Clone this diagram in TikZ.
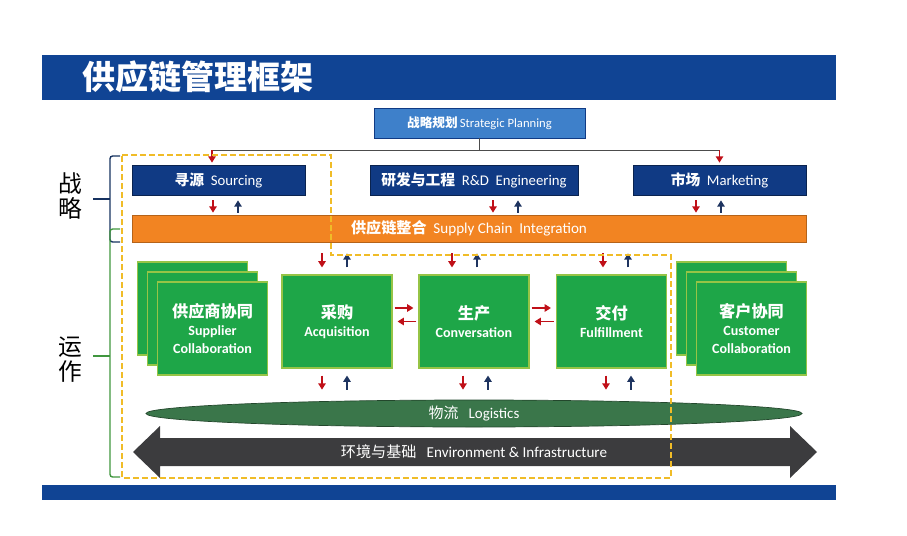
\documentclass[tikz,border=0pt]{standalone}
\usepackage{fontspec}
\setmainfont{Carlito}
\newfontfamily\cjk{Noto Sans CJK SC}
\usetikzlibrary{arrows.meta,shapes.geometric}
\definecolor{banner_blue}{RGB}{16,68,148}
\definecolor{plan_blue}{RGB}{62,128,202}
\definecolor{box_blue}{RGB}{16,58,132}
\definecolor{sci_orange}{RGB}{242,132,34}
\definecolor{proc_green}{RGB}{30,166,72}
\definecolor{proc_edge}{RGB}{150,196,70}
\definecolor{log_green}{RGB}{58,118,74}
\definecolor{env_grey}{RGB}{60,60,62}
\definecolor{arr_red}{RGB}{192,16,24}
\definecolor{arr_navy}{RGB}{30,52,96}
\definecolor{frame_yellow}{RGB}{240,188,40}
\definecolor{brace_blue}{RGB}{22,50,96}
\definecolor{brace_green}{RGB}{64,150,62}
\newcommand{\zh}[1]{{\cjk\bfseries #1}}
\newcommand{\zhbig}[1]{{\cjk\bfseries\fontsize{9.2}{10}\selectfont #1}}

\begin{document}
\begin{tikzpicture}[x=0.2mm, y=-0.2mm,
  planbox/.style={fill=plan_blue, draw=box_blue, text=white, minimum width=42.2mm, minimum height=6mm, inner sep=0pt, font=\fontsize{7.2}{9}\selectfont},
  darkbox/.style={fill=box_blue, draw=box_blue!60!black, text=white, minimum width=34.6mm, minimum height=6mm, inner sep=0pt, font=\fontsize{8.4}{10}\selectfont},
  procbox/.style={fill=proc_green, draw=proc_edge, line width=0.6pt, text=white, minimum width=22mm, minimum height=18.6mm, inner sep=0pt, align=center, font=\bfseries\fontsize{8}{10.2}\selectfont},
  redarr/.style={arr_red, line width=1.1pt, -{Triangle[width=4.2pt,length=3.6pt]}},
  navyarr/.style={arr_navy, line width=1.1pt, -{Triangle[width=4.2pt,length=3.6pt]}}]
\useasboundingbox (0,0) rectangle (907,536);

% banner and footer
\fill[banner_blue] (42,55) rectangle (836,100);
\fill[banner_blue] (42,485) rectangle (836,500);
\node[anchor=west, text=white, font=\fontsize{18.8}{20}\selectfont] (title) at (76,77) {\zh{供应链管理框架}};

% strategy row
\node[planbox] (plan) at (479.5,123) {\zh{战略规划}\,Strategic Planning};
\node[darkbox] (sourcing) at (218.5,180) {\zh{寻源}~~Sourcing};
\node[darkbox, minimum width=41.6mm] (rnd) at (474,180) {\zh{研发与工程}~~R\&D~~Engineering};
\node[darkbox] (market) at (719.5,180) {\zh{市场}~~Marketing};
\node[fill=sci_orange, draw=sci_orange!75!black, text=white, minimum width=134.8mm, minimum height=5.4mm, inner sep=0pt,
  font=\fontsize{8.6}{10}\selectfont] (sci) at (469,228.5) {\zh{供应链整合}~~Supply Chain~~Integration};

\draw[gray!60!black] (plan.south) -- ++(0,12) coordinate (hub);
\draw[gray!60!black] ([xshift=-1.3mm]sourcing.north |- hub) -- (market.north |- hub);
\draw[redarr, shorten >=0.4mm] ([xshift=-1.3mm]sourcing.north |- hub) -- ([xshift=-1.3mm]sourcing.north);
\draw[redarr, shorten >=0.4mm] (market.north |- hub) -- (market.north);

\foreach \b/\dx in {sourcing/-1.1, rnd/3.8, market/-4.7} {
  \draw[redarr, shorten <=1mm, shorten >=0.4mm] ([xshift=\dx mm]\b.south) -- ([xshift=\dx mm]\b.south |- sci.north);
  \draw[navyarr, shorten <=0.4mm, shorten >=1mm] ([xshift=\dx mm+5mm]\b.south |- sci.north) -- ([xshift=\dx mm+5mm]\b.south);
}

% operation row
\foreach \d in {0,10}
  \node[procbox] (sup\d) at (192.5+\d,308.5+\d) {};
\node[procbox] (supplier) at (212.5,328.5) {\zhbig{供应商协同}\\Supplier\\Collaboration};
\node[procbox] (acq) at (337,321.5) {\zhbig{采购}\\Acquisition};
\node[procbox] (conv) at (474,321.5) {\zhbig{生产}\\Conversation};
\node[procbox] (fulf) at (611.5,321.5) {\zhbig{交付}\\Fulfillment};
\foreach \d in {0,10}
  \node[procbox] (cus\d) at (731.5+\d,308.5+\d) {};
\node[procbox] (customer) at (751.5,328.5) {\zhbig{客户协同}\\Customer\\Collaboration};

\node[ellipse, fill=log_green, draw=log_green!60!black, text=white, minimum width=131.2mm, minimum height=5.4mm, inner sep=0pt,
  font=\fontsize{8.5}{9}\selectfont] (logi) at (474,413.5) {{\cjk 物流}~~~Logistics};

\foreach \b/\dx in {acq/-3, conv/-4.4, fulf/-1.7} {
  \draw[redarr, shorten <=2.2mm, shorten >=1.4mm] ([xshift=\dx mm]\b.north |- sci.south) -- ([xshift=\dx mm]\b.north);
  \draw[navyarr, shorten <=1.4mm, shorten >=2.2mm] ([xshift=\dx mm+5mm]\b.north) -- ([xshift=\dx mm+5mm]\b.north |- sci.south);
}
\foreach \b/\dx in {acq/-3, conv/-2.2, fulf/-1.1} {
  \draw[redarr, shorten <=1.4mm, shorten >=2mm] ([xshift=\dx mm]\b.south) -- ([xshift=\dx mm]\b.south |- logi.north);
  \draw[navyarr, shorten <=2mm, shorten >=1.4mm] ([xshift=\dx mm+5mm]\b.south |- logi.north) -- ([xshift=\dx mm+5mm]\b.south);
}
\foreach \a/\b in {acq/conv, conv/fulf} {
  \draw[redarr, line width=0.9pt, shorten <=0.4mm, shorten >=1mm] ([yshift=2.7mm]\a.east) -- ([yshift=2.7mm]\b.west);
  \draw[redarr, line width=0.9pt, shorten <=0.4mm, shorten >=1mm] (\b.west) -- (\a.east);
}

% environment arrow
\fill[env_grey] (133,452) -- (160,426) -- (160,438) -- (790,438) -- (790,426) -- (817,452)
  -- (790,478) -- (790,466) -- (160,466) -- (160,478) -- cycle;
\node[text=white, font=\fontsize{8.6}{10}\selectfont] (env) at (474,452) {{\cjk 环境与基础}~~~Environment~\&~Infrastructure};

% dashed frame
\draw[frame_yellow, line width=0.3mm, dash pattern=on 1.2mm off 0.6mm]
  (122,155) -- (331,155) -- (331,255) -- (671,255) -- (671,478) -- (122,478) -- cycle;

% left brackets
\node[align=center, font=\fontsize{13.5}{14.2}\selectfont] (zl) at (70,196) {\cjk 战\\\cjk 略};
\node[align=center, font=\fontsize{13.5}{14.2}\selectfont] (yz) at (70,360) {\cjk 运\\\cjk 作};
\coordinate (zlb) at (110,199);
\coordinate (yzb) at (110,356);
\draw[brace_blue, line width=0.8pt, rounded corners=1.5pt] (120,156) -- (110,156) -- (110,242) -- (120,242);
\draw[brace_blue, line width=0.8pt, shorten <=1mm] (zl.east |- zlb) -- (zlb);
\draw[brace_green, line width=0.8pt, rounded corners=1.5pt] (120,229) -- (110,229) -- (110,477) -- (120,477);
\draw[brace_green, line width=0.8pt, shorten <=1mm] (yz.east |- yzb) -- (yzb);

\end{tikzpicture}
\end{document}
